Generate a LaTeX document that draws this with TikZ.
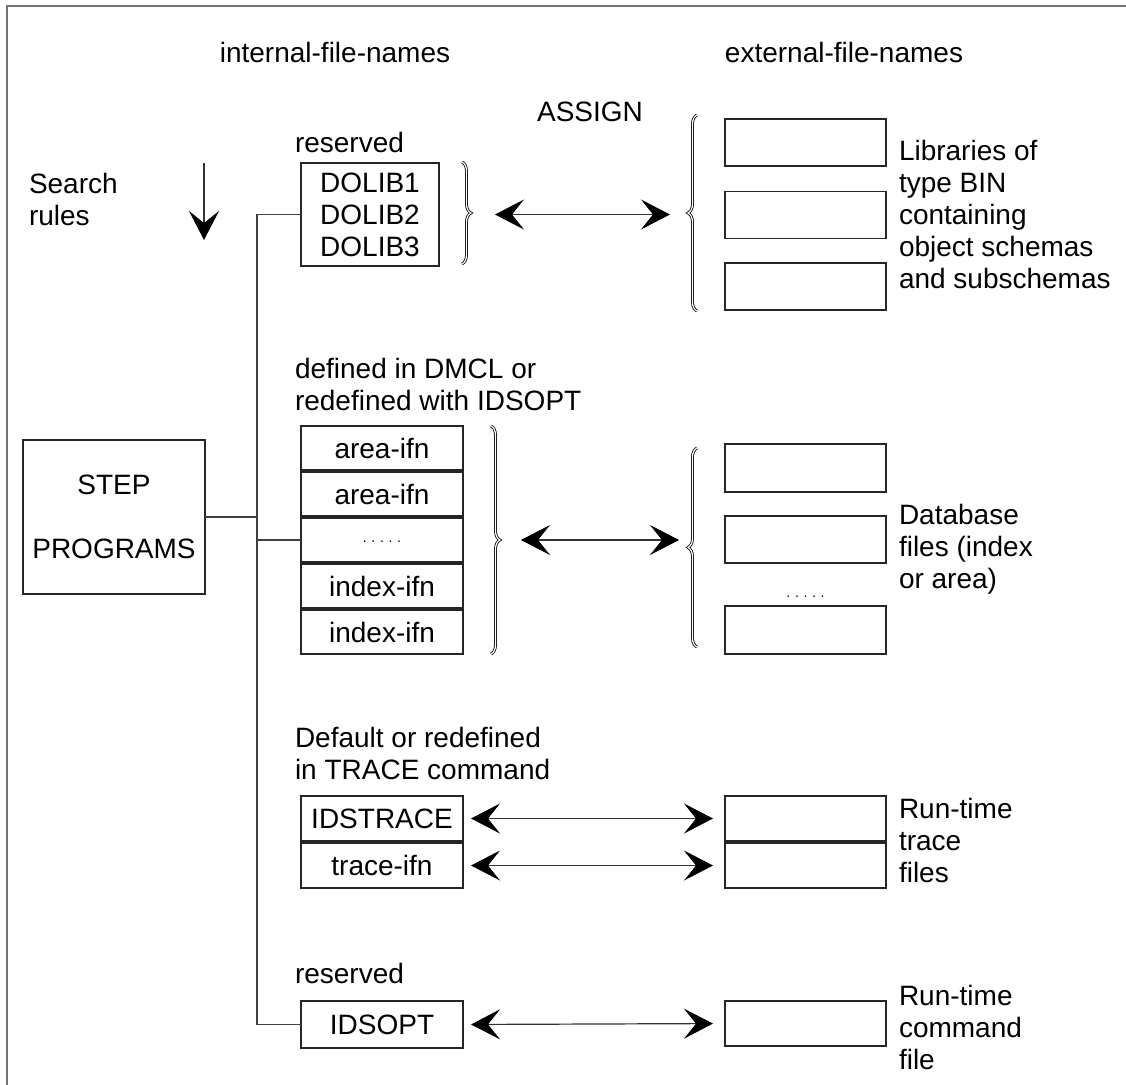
\documentclass[tikz,border=0pt]{standalone}
\usepackage{fontspec}
\setmainfont{Liberation Sans}
\usetikzlibrary{arrows.meta,decorations.pathreplacing}
\begin{document}
\begin{tikzpicture}[x=0.5pt,y=-0.5pt,
  every node/.style={font=\fontsize{14pt}{16pt}\selectfont, inner sep=0pt, outer sep=0pt},
  filebox/.style={draw=black!85, line width=0.6pt, minimum width=81pt, minimum height=22pt},
  extbox/.style={draw=black!85, line width=0.6pt, minimum width=80.5pt, minimum height=23.5pt},
  note/.style={align=left, anchor=west},
  link/.style={draw=black!75, line width=0.6pt},
  bighead/.tip={Stealth[length=14.5pt,width=15pt,inset=6pt,black]},
  twoway/.style={draw=black!80, line width=0.6pt, bighead-bighead},
  curly/.style={decorate, decoration={brace, amplitude=4.5pt}, line width=0.4pt, double=white, double distance=0.6pt, draw=black}
]
\useasboundingbox (0,0) rectangle (1126,1084);

% page frame (open to the right and bottom)
\draw[black!55, line width=1pt] (7,1100) -- (7,6) -- (1140,6);

% column headings
\node (hint) at (335,52) {internal-file-names};
\node (hext) at (844,52) {external-file-names};
\node (assign) at (590,112) {ASSIGN};

% search rules
\node[note] (search) at (29,199) {Search\\rules};
\coordinate (sTop) at (204,163);
\coordinate (sBot) at (204,240);
\draw[draw=black!80, line width=0.6pt, -bighead] (sTop) -- (sBot);

% step programs
\node[draw=black!85, line width=0.6pt, minimum width=91pt, minimum height=77pt, align=center] (step) at (114,517) {STEP\\[16pt]PROGRAMS};

% --- reserved object libraries
\node[note] (res1) at (295,142) {reserved};
\node[draw=black!85, line width=0.6pt, minimum width=69pt, minimum height=51.5pt, align=center] (dolib) at (370,214.5) {DOLIB1\\DOLIB2\\DOLIB3};
\draw[curly] (462,162) -- (462,264);

\node[extbox] (lib1) at (805.5,142.5) {};
\node[extbox] (lib2) at (805.5,215) {};
\node[extbox] (lib3) at (805.5,286.5) {};
\draw[curly] (697,311) -- (697,115);
\node[note] (libtxt) at (899,214) {Libraries of\\type BIN\\containing\\object schemas\\and subschemas};

\draw[twoway, shorten <=28pt, shorten >=27.5pt] (dolib.east) -- (dolib.east -| lib2.west);

% --- area and index files
\node[note] (dmcl) at (295,384) {defined in DMCL or\\redefined with IDSOPT};
\node[filebox] (ifn1) at (382,448) {area-ifn};
\node[filebox] (ifn2) at (382,494) {area-ifn};
\node[filebox] (ifn3) at (382,540) {};
\node[font=\fontsize{7pt}{7pt}\selectfont] (ifndots) at (382,542) {.\,\,.\,\,.\,\,.\,\,.};
\node[filebox] (ifn4) at (382,586) {index-ifn};
\node[filebox] (ifn5) at (382,632) {index-ifn};
\draw[curly] (491,426) -- (491,654);

\node[extbox, minimum height=24pt] (db1) at (805.5,468) {};
\node[extbox] (db2) at (805.5,539.5) {};
\node[font=\fontsize{7pt}{7pt}\selectfont] (dbdots) at (805.5,597) {.\,\,.\,\,.\,\,.\,\,.};
\node[extbox, minimum height=24pt] (db3) at (805.5,630) {};
\draw[curly] (697,647) -- (697,448);
\node[note] (dbtxt) at (899,549) {Database\\files (index\\or area)};

\draw[twoway, shorten <=29pt, shorten >=23pt] (ifn3.east) -- (ifn3.east -| db2.west);

% --- trace files
\node[note] (trdef) at (295,753) {Default or redefined\\in TRACE command};
\node[filebox, minimum height=22.5pt] (tr1) at (382,818.5) {IDSTRACE};
\node[filebox, minimum height=22.5pt] (tr2) at (382,865.5) {trace-ifn};
\node[extbox, minimum height=22.5pt] (xt1) at (805.5,818.5) {};
\node[extbox, minimum height=22.5pt] (xt2) at (805.5,865.5) {};
\node[note] (trtxt) at (899,840) {Run-time\\trace\\files};
\draw[twoway, shorten <=4pt, shorten >=6pt] (tr1.east) -- (xt1.west);
\draw[twoway, shorten <=4pt, shorten >=6pt] (tr2.east) -- (xt2.west);

% --- options file
\node[note] (res2) at (295,973) {reserved};
\node[filebox, minimum height=23.5pt] (idsopt) at (382,1024.5) {IDSOPT};
\node[extbox, minimum height=22.5pt] (cmd) at (805.5,1023.5) {};
\node[note] (cmdtxt) at (899,1027) {Run-time\\command\\file};
\draw[twoway, shorten <=4pt, shorten >=6pt] (idsopt.east) -- (cmd.west);

% --- connecting bus from the step programs
\coordinate (busTop) at (257,214.5);
\coordinate (busBot) at (257,1024.5);
\draw[link] (dolib.west) -- (busTop) -- (busBot) -- (idsopt.west);
\draw[link] (step.east) -- (step.east -| busTop);
\draw[link] (busTop |- ifn3.west) -- (ifn3.west);

\end{tikzpicture}
\end{document}
